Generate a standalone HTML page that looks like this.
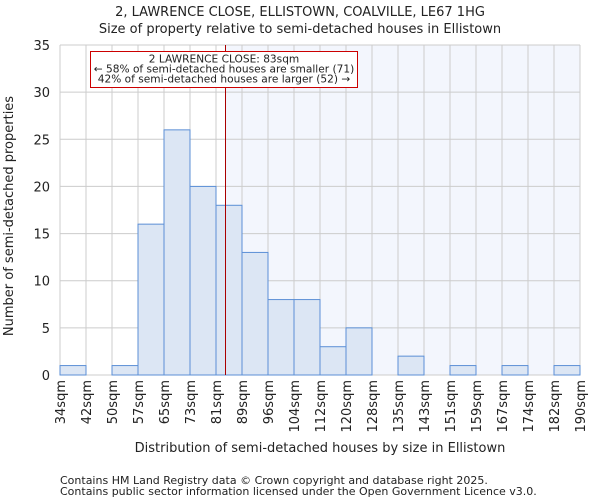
<!DOCTYPE html>
<html><head><meta charset="utf-8"><style>
body{margin:0;background:#fff;font-family:"DejaVu Sans","Liberation Sans",sans-serif;}
svg text{font-family:"DejaVu Sans","Liberation Sans",sans-serif;fill:#222;}
</style></head><body>
<svg id="c" width="600" height="500" xmlns="http://www.w3.org/2000/svg">
<text x="300" y="16" font-size="13" text-anchor="middle">2, LAWRENCE CLOSE, ELLISTOWN, COALVILLE, LE67 1HG</text>
<text x="300" y="33" font-size="13" text-anchor="middle">Size of property relative to semi-detached houses in Ellistown</text>
<g id="plot"></g>
<text x="320" y="452" font-size="13" text-anchor="middle">Distribution of semi-detached houses by size in Ellistown</text>
<text transform="translate(13,216) rotate(-90)" font-size="13" text-anchor="middle">Number of semi-detached properties</text>
<text x="60" y="484" font-size="11" fill="#444">Contains HM Land Registry data © Crown copyright and database right 2025.</text>
<text x="60" y="495" font-size="11" fill="#444">Contains public sector information licensed under the Open Government Licence v3.0.</text>
</svg>
<script>
const binLabels=["34sqm","42sqm","50sqm","57sqm","65sqm","73sqm","81sqm","89sqm","96sqm","104sqm","112sqm","120sqm","128sqm","135sqm","143sqm","151sqm","159sqm","167sqm","174sqm","182sqm","190sqm"];
const binEdges=[33.5,41.3,49.1,56.9,64.7,72.5,80.3,88.1,95.9,103.7,111.5,119.3,127.1,134.9,142.7,150.5,158.3,166.1,173.9,181.7,189.5];
const counts=[1,0,1,16,26,20,18,13,8,8,3,5,0,2,0,1,0,1,0,1];
const yTicks=[0,5,10,15,20,25,30,35];
const markerValue=83;
const NS="http://www.w3.org/2000/svg";
const L=60,R=580,T=45,B=375,yMax=35;
const bw=(R-L)/counts.length;
const xi=i=>L+i*bw;
const y=v=>B-v/yMax*(B-T);
function xv(v){for(let i=0;i<binEdges.length-1;i++){if(v<=binEdges[i+1])return xi(i+(v-binEdges[i])/(binEdges[i+1]-binEdges[i]));}return R;}
const g=document.getElementById('plot');
function mk(t,a){const e=document.createElementNS(NS,t);for(const k in a)e.setAttribute(k,a[k]);g.appendChild(e);return e;}
const mx=Math.round(xv(markerValue))+0.5;
const sh=mk('rect',{x:mx,y:T,width:R-mx,height:B-T,fill:'#f3f6fd'});


for(let i=0;i<=counts.length;i++){const l=mk('line',{x1:xi(i),x2:xi(i),y1:T,y2:B,stroke:'#cccccc','stroke-width':1});

}
yTicks.forEach(t=>{const l=mk('line',{x1:L,x2:R,y1:y(t),y2:y(t),stroke:'#cccccc','stroke-width':1});


const tx=mk('text',{x:L-10,y:y(t)+5,'font-size':13,'text-anchor':'end'});tx.textContent=t;

});
counts.forEach((c,i)=>{if(c<=0)return;const r=mk('rect',{x:xi(i),y:y(c),width:bw,height:B-y(c),fill:'#dce6f4',stroke:'#5b8fd6','stroke-width':1});

});
binLabels.forEach((s,i)=>{const tx=mk('text',{transform:`translate(${xi(i)+5},380) rotate(-90)`,'font-size':13,'text-anchor':'end'});tx.textContent=s;

});
const ml=mk('line',{x1:mx,x2:mx,y1:T,y2:B,stroke:'#aa0000','stroke-width':1});


const box=mk('rect',{x:90.5,y:51.5,width:267,height:36,fill:'#fff',stroke:'#cc0000','stroke-width':1});


["2 LAWRENCE CLOSE: 83sqm","← 58% of semi-detached houses are smaller (71)","42% of semi-detached houses are larger (52) →"].forEach((s,k)=>{const tx=mk('text',{x:224,y:62.5+k*10,'font-size':10.6,'text-anchor':'middle'});tx.textContent=s;

});
</script>
</body></html>
